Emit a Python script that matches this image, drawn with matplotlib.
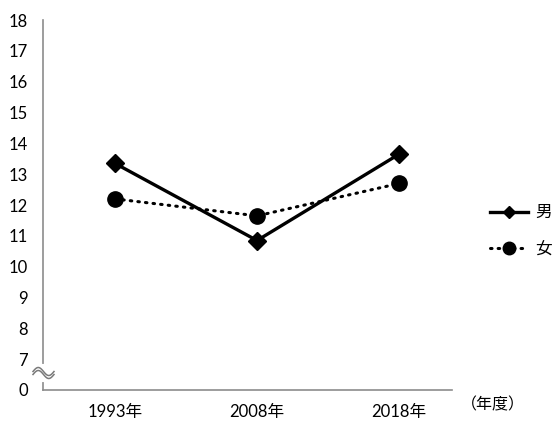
import matplotlib.pyplot as plt
from matplotlib.lines import Line2D
import numpy as np

plt.rcParams['font.family'] = ['Lato', 'Noto Sans CJK JP', 'DejaVu Sans']

years = ['1993年', '2008年', '2018年']
male = [13.35, 10.85, 13.65]
female = [12.2, 11.65, 12.7]

# the axis is cut between 0 and 7, so the bottom position (6) is labelled "0"
y_ticks = [6, 7, 8, 9, 10, 11, 12, 13, 14, 15, 16, 17, 18]
y_tick_labels = ['0'] + [str(v) for v in y_ticks[1:]]

fig = plt.figure(figsize=(5.6, 4.29), dpi=100)
ax = fig.add_axes([0.077, 0.091, 0.73, 0.862])

dots = (0, (0.5, 2.0))

x = np.arange(len(years))
ax.plot(x, male, color='black', lw=2.4, marker='D', markersize=9,
        solid_capstyle='round', zorder=3)
ax.plot(x, female, color='black', lw=2.2, linestyle=dots,
        dash_capstyle='round', marker='o', markersize=11, zorder=3)

ax.set_xlim(-0.507, 2.373)
ax.set_ylim(6, 18)
ax.set_xticks(x)
ax.set_xticklabels(years, fontsize=12)
ax.set_yticks(y_ticks)
ax.set_yticklabels(y_tick_labels, fontsize=12)
ax.tick_params(length=0, pad=10)
ax.tick_params(axis='y', pad=11)

for side in ['top', 'right']:
    ax.spines[side].set_visible(False)
for side in ['left', 'bottom']:
    ax.spines[side].set_color('#8c8c8c')
    ax.spines[side].set_linewidth(1.2)

# break mark on the y axis
fig.add_artist(Line2D([43 / 560, 43 / 560], [1 - 366 / 429, 1 - 380 / 429],
                      color='white', lw=3.0))
t = np.linspace(0, 1, 60)
bx = 33 + 21 * t
for off in (-1.5, 1.5):
    by = 373 + off - 4.0 * np.sin(2 * np.pi * t)
    fig.add_artist(Line2D(bx / 560, 1 - by / 429, color='#7a7a7a', lw=1.1))

handles = [
    Line2D([], [], color='black', lw=2.4, marker='D', markersize=6),
    Line2D([], [], color='black', lw=2.2, linestyle=dots,
           dash_capstyle='round', marker='o', markersize=9),
]
fig.legend(handles, ['男', '女'], loc='center left',
           bbox_to_anchor=(0.848, 0.462), frameon=False, fontsize=12,
           handlelength=2.3, handletextpad=0.4, labelspacing=1.25)

fig.text(0.823, 1 - 405 / 429, '（年度）', fontsize=11.5, va='center')

fig.savefig('out.png', dpi=100)
